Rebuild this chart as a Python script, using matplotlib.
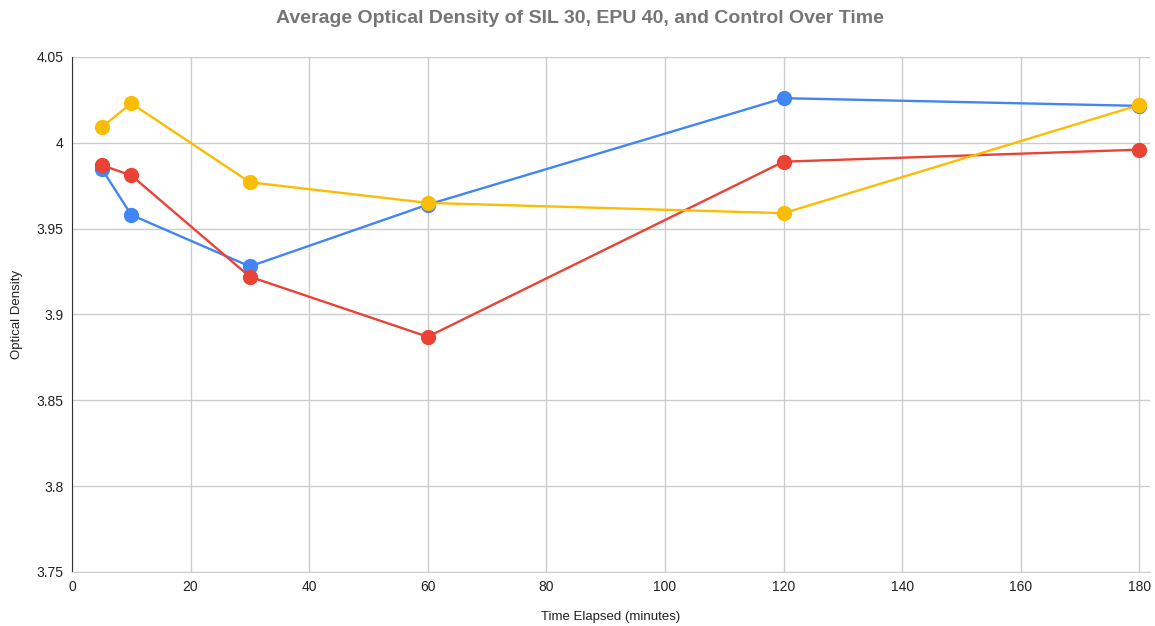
import matplotlib
matplotlib.use('Agg')
from matplotlib import pyplot as plt
from matplotlib.ticker import FuncFormatter

plt.rcParams['font.family'] = ['Liberation Sans', 'DejaVu Sans']

times = [5, 10, 30, 60, 120, 180]
sil30 = [3.985, 3.958, 3.928, 3.964, 4.026, 4.0215]
epu40 = [3.987, 3.981, 3.922, 3.887, 3.989, 3.996]
control = [4.009, 4.023, 3.977, 3.965, 3.959, 4.022]

fig = plt.figure(figsize=(11.55, 6.26), dpi=100)
ax = fig.add_axes([0.0623, 0.0863, 0.9334, 0.8227])

ax.plot(times, sil30, '-o', color='#4285F4', lw=1.7, ms=10, label='SIL 30', zorder=3)
ax.plot(times, epu40, '-o', color='#EA4335', lw=1.7, ms=10, label='EPU 40', zorder=3)
ax.plot(times, control, '-o', color='#FBBC04', lw=1.7, ms=10, label='Control', zorder=3)

ax.set_xlim(0, 181.8)
ax.set_ylim(3.75, 4.05)
ax.set_xticks(range(0, 181, 20))
ax.set_yticks([3.75, 3.8, 3.85, 3.9, 3.95, 4.0, 4.05])
ax.yaxis.set_major_formatter(FuncFormatter(lambda v, p: '%g' % round(v, 2)))
ax.grid(True, color='#cccccc', lw=1)
ax.set_axisbelow(True)
ax.tick_params(length=0, labelsize=10, colors='#222222', pad=6)
for s in ['top', 'right']:
    ax.spines[s].set_visible(False)
ax.spines['left'].set_color('#333333')
ax.spines['bottom'].set_color('#cccccc')

fig.text(0.502, 0.971, 'Average Optical Density of SIL 30, EPU 40, and Control Over Time',
         ha='center', va='center', fontsize=14, fontweight='bold', color='#757575')
ax.set_xlabel('Time Elapsed (minutes)', fontsize=9.5, color='#222222', labelpad=12)
ax.set_ylabel('Optical Density', fontsize=9.5, color='#222222', labelpad=10)

fig.savefig('out.png', dpi=100)
